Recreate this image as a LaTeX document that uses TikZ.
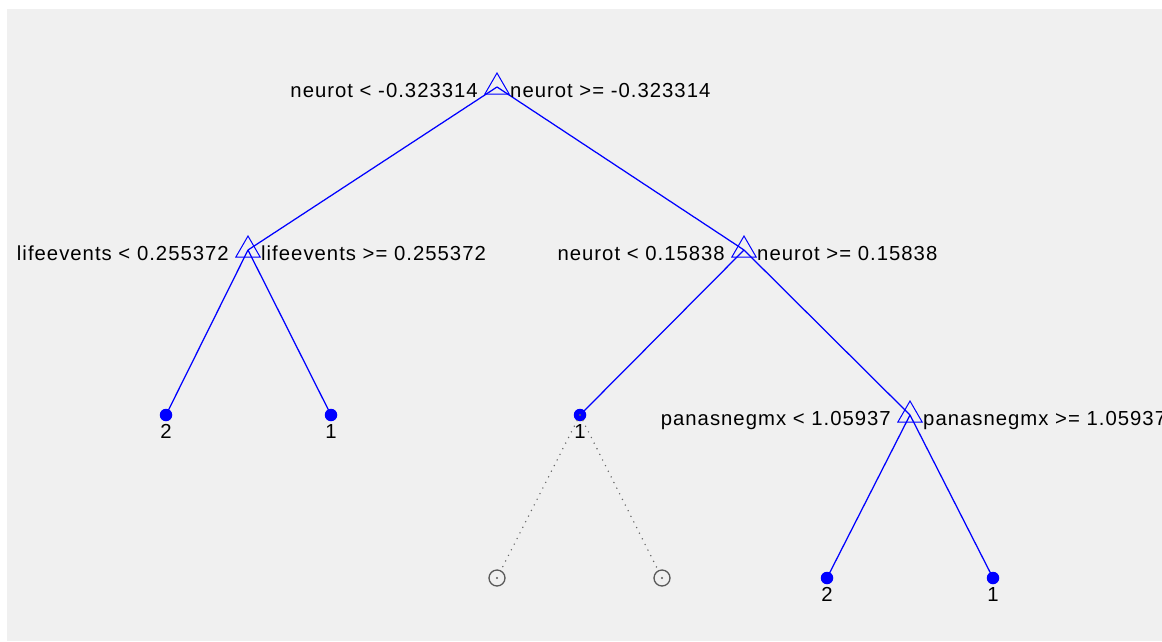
\documentclass[tikz,border=0pt]{standalone}
\usepackage{fontspec}
\setmainfont[LetterSpace=5]{Liberation Sans}
\usetikzlibrary{shapes.geometric, positioning}
\definecolor{figgray}{gray}{0.94}
\tikzset{
x=1pt, y=-1pt, % one unit per pixel, y runs downwards
split/.style={regular polygon, regular polygon sides=3, draw=blue, line width=1pt, minimum size=28pt, inner sep=0pt, outer sep=0pt}, % decision node
leaf/.style={circle, fill=blue, minimum size=12.5pt, inner sep=0pt}, % terminal node
pruned/.style={circle, draw=black!65, line width=1.3pt, minimum size=16pt, inner sep=0pt}, % pruned node
branch/.style={blue, line width=1.25pt},
prunededge/.style={black!60, line width=1.6pt, dash pattern=on 0pt off 6.3pt, line cap=round},
cond/.style={font=\fontsize{20.3}{24}\selectfont, inner sep=0pt},
}

\begin{document}
\begin{tikzpicture}
\def\ya{87}
\def\yb{250}
\def\yc{415}
\def\yd{578}
\def\dl{19}
\def\dr{13}
\def\dy{10.5}
\useasboundingbox (0,0) rectangle (1162,641);
\fill[white] (0,0) rectangle (1162,641);
\fill[figgray] (7,9) rectangle (1162,641);

% nodes
\node[split] (root) at (497,\ya) {};
\node[split] (life) at (248,\yb) {};
\node[split] (neur) at (744,\yb) {};
\node[leaf] (l2a) at (166,\yc) {};
\node[leaf] (l1a) at (331,\yc) {};
\node[leaf] (l1b) at (580,\yc) {};
\node[split] (pana) at (910,\yc) {};
\node[pruned] (p1) at (497,\yd) {};
\node[pruned] (p2) at (662,\yd) {};
\node[leaf] (l2b) at (827,\yd) {};
\node[leaf] (l1c) at (993,\yd) {};

% edges
\draw[branch] (root.center) -- (life.center); % root to lifeevents
\draw[branch] (root.center) -- (neur.center); % root to neurot
\draw[branch] (life.center) -- (l2a.center);
\draw[branch] (life.center) -- (l1a.center);
\draw[branch] (neur.center) -- (l1b.center);
\draw[branch] (neur.center) -- (pana.center); % neurot to panasnegmx
\draw[branch] (pana.center) -- (l2b.center);
\draw[branch] (pana.center) -- (l1c.center);
\draw[prunededge] (l1b.center) -- (p1); % pruned
\draw[prunededge] (l1b.center) -- (p2);
\fill[black!65] (p1) circle (1.1pt);
\fill[black!65] (p2) circle (1.1pt);

% split labels
\node[cond, anchor=base east] (c1) at (497-\dl, \ya+\dy) {neurot < -0.323314};
\node[cond, anchor=base west] (c2) at (497+\dr, \ya+\dy) {neurot >= -0.323314};
\node[cond, anchor=base east] (c3) at (248-\dl, \yb+\dy) {lifeevents < 0.255372};
\node[cond, anchor=base west] (c4) at (248+\dr, \yb+\dy) {lifeevents >= 0.255372};
\node[cond, anchor=base east] (c5) at (744-\dl, \yb+\dy) {neurot < 0.15838};
\node[cond, anchor=base west] (c6) at (744+\dr, \yb+\dy) {neurot >= 0.15838};
\node[cond, anchor=base east] (c7) at (910-\dl, \yc+\dy) {panasnegmx < 1.05937};
\node[cond, anchor=base west] (c8) at (910+\dr, \yc+\dy) {panasnegmx >= 1.05937};

% class labels
\node[cond, anchor=base] at (166, \yc+23) {2};
\node[cond, anchor=base] at (331, \yc+23) {1};
\node[cond, anchor=base] at (580, \yc+23) {1};
\node[cond, anchor=base] at (827, \yd+23) {2};
\node[cond, anchor=base] at (993, \yd+23) {1};
\end{tikzpicture}
\end{document}
